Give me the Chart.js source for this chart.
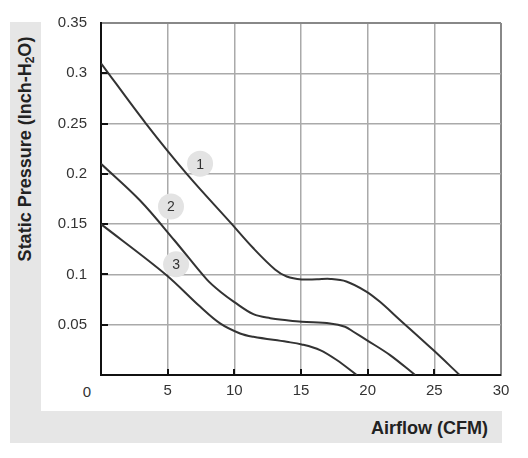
<!DOCTYPE html>
<html>
<head>
<meta charset="utf-8">
<script src="https://cdn.jsdelivr.net/npm/chart.js@4/dist/chart.umd.min.js"></script>
<style>
  body { margin: 0; background: #fff; font-family: "Liberation Sans", Arial, sans-serif; }
  #wrap { position: relative; width: 528px; height: 458px; overflow: hidden; }
  .band { position: absolute; background: #e6e6e6; }
  #yTitle {
    position: absolute; left: 25px; top: 149px;
    transform: translate(-50%, -50%) rotate(-90deg);
    white-space: nowrap; font-weight: bold; font-size: 18px; color: #222;
  }
  #yTitle sub { font-size: 12px; vertical-align: -3px; line-height: 0; }
  #xTitle {
    position: absolute; right: 40px; top: 418px;
    font-weight: bold; font-size: 18px; color: #222; white-space: nowrap;
  }
  #origin {
    position: absolute; left: 87px; top: 391px; transform: translate(-50%, -50%);
    font-size: 15px; color: #333;
  }
  canvas { position: absolute; left: 0; top: 0; }
</style>
</head>
<body>
<div id="wrap">
  <div class="band" style="left:10px;top:22px;width:31px;height:421px"></div>
  <div class="band" style="left:10px;top:411px;width:492px;height:32px"></div>
  <div id="yTitle">Static Pressure (Inch-H<sub>2</sub>O)</div>
  <div id="xTitle">Airflow (CFM)</div>
  <div id="origin">0</div>
  <canvas id="fanChart" width="528" height="458"></canvas>
</div>
<script>
// 팬 곡선 데이터
const airflow1 = [0, 3.37, 6.43, 9.68, 11.43, 13.05, 13.93, 15.05, 16.2, 17.2, 18.4, 19.9, 20.9, 22.4, 24.9, 26.9];
const pressure1 = [0.31, 0.25, 0.20, 0.152, 0.126, 0.105, 0.098, 0.095, 0.0952, 0.0955, 0.093, 0.083, 0.073, 0.055, 0.025, 0];

const airflow2 = [0, 2.93, 5.5, 7.93, 8.93, 10.0, 11.43, 12.7, 13.93, 15.05, 17.18, 18.3, 18.93, 19.93, 21.68, 23.56];
const pressure2 = [0.21, 0.1735, 0.134, 0.095, 0.083, 0.0725, 0.0605, 0.0565, 0.0545, 0.053, 0.0513, 0.048, 0.043, 0.0347, 0.0198, 0];

const airflow3 = [0, 4.85, 7.43, 8.93, 10.43, 11.43, 13.93, 15.05, 16.43, 17.68, 19.18];
const pressure3 = [0.15, 0.1, 0.068, 0.0513, 0.0413, 0.038, 0.033, 0.0304, 0.0248, 0.0149, 0];

// 곡선 번호 표시 위치
const markerNames = ['1', '2', '3'];
const markerX = [7.43, 5.25, 5.63];
const markerY = [0.21, 0.1676, 0.11];

const xTicks = [0, 5, 10, 15, 20, 25, 30];
const yTicks = [0, 0.05, 0.1, 0.15, 0.2, 0.25, 0.3, 0.35];

const toPoints = (xs, ys) => xs.map((x, i) => ({ x: x, y: ys[i] }));

const LINE = '#333';
const FONT = "'Liberation Sans', Arial, sans-serif";

function curveSet(xs, ys) {
  return {
    type: 'line',
    data: toPoints(xs, ys),
    borderColor: LINE,
    borderWidth: 2,
    pointRadius: 0,
    fill: false,
    tension: 0.35
  };
}

// 안쪽으로 향하는 눈금 + 원 안의 번호
const extrasPlugin = {
  id: 'extras',
  beforeDatasetsDraw(chart) {
    const ctx = chart.ctx;
    const xs = chart.scales.x, ys = chart.scales.y;
    const area = chart.chartArea;
    ctx.save();
    ctx.strokeStyle = '#111';
    ctx.lineWidth = 2;
    ctx.beginPath();
    xTicks.slice(1, -1).forEach(v => {
      const px = Math.round(xs.getPixelForValue(v));
      ctx.moveTo(px, area.bottom);
      ctx.lineTo(px, area.bottom - 6);
    });
    yTicks.slice(1, -1).forEach(v => {
      const py = Math.round(ys.getPixelForValue(v));
      ctx.moveTo(area.left, py);
      ctx.lineTo(area.left + 7, py);
    });
    ctx.stroke();
    ctx.restore();
  },
  afterDatasetsDraw(chart) {
    const ctx = chart.ctx;
    const meta = chart.getDatasetMeta(3);
    ctx.save();
    ctx.fillStyle = '#333';
    ctx.font = '14px ' + FONT;
    ctx.textAlign = 'center';
    ctx.textBaseline = 'middle';
    meta.data.forEach((pt, i) => {
      ctx.fillText(markerNames[i], pt.x, pt.y + 1);
    });
    ctx.restore();
  }
};

const near = (a, b) => Math.abs(a - b) < 1e-6;

new Chart(document.getElementById('fanChart'), {
  type: 'scatter',
  data: {
    datasets: [
      curveSet(airflow1, pressure1),
      curveSet(airflow2, pressure2),
      curveSet(airflow3, pressure3),
      {
        type: 'scatter',
        data: toPoints(markerX, markerY),
        pointRadius: 13,
        pointBackgroundColor: '#e3e3e3',
        pointBorderWidth: 0,
        order: 10
      }
    ]
  },
  options: {
    responsive: false,
    animation: false,
    events: [],
    layout: { padding: { top: 22, right: 27, left: 0, bottom: 0 } },
    plugins: { legend: { display: false }, tooltip: { enabled: false } },
    scales: {
      x: {
        type: 'linear',
        min: 0, max: 30,
        afterFit: s => { s.height = 83; },
        afterBuildTicks: s => { s.ticks = xTicks.map(v => ({ value: v })); },
        ticks: {
          color: '#333',
          font: { family: FONT, size: 15 },
          padding: 7,
          maxRotation: 0,
          callback: v => (v === 0 ? '' : String(v))
        },
        grid: {
          drawTicks: false,
          color: c => (c.tick && c.tick.value === 30 ? '#888' : '#aaa'),
          lineWidth: c => (c.tick && c.tick.value === 30 ? 2 : 1.5)
        },
        border: { display: true, color: '#111', width: 2 }
      },
      y: {
        type: 'linear',
        min: 0, max: 0.35,
        afterFit: s => { s.width = 101; },
        afterBuildTicks: s => { s.ticks = yTicks.map(v => ({ value: v })); },
        ticks: {
          color: '#333',
          font: { family: FONT, size: 15 },
          padding: 14,
          callback: v => (v === 0 ? '' : String(+v.toFixed(2)))
        },
        grid: {
          drawTicks: false,
          color: c => (c.tick && near(c.tick.value, 0.35) ? '#888' : '#aaa'),
          lineWidth: c => (c.tick && near(c.tick.value, 0.35) ? 2 : 1.5)
        },
        border: { display: true, color: '#111', width: 2 }
      }
    }
  },
  plugins: [extrasPlugin]
});
</script>
</body>
</html>
